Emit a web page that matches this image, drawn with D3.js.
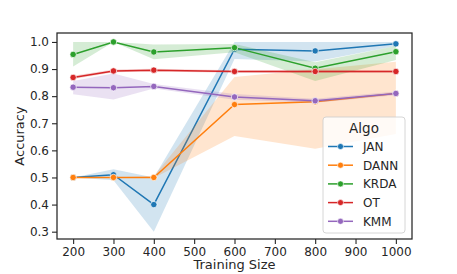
<!DOCTYPE html>
<html>
<head>
<meta charset="utf-8">
<script src="https://cdn.jsdelivr.net/npm/d3@7"></script>
<style>
  body { margin: 0; background: #fff; }
  svg { display: block; font-family: "DejaVu Sans", sans-serif; }
</style>
</head>
<body>
<div id="chart-area"></div>
<script>
// training sizes on the x axis
const sizes = [200, 300, 400, 600, 800, 1000];

// one mean + confidence band per algorithm
const algos = ['JAN', 'DANN', 'KRDA', 'OT', 'KMM'];
const colors = ['#1f77b4', '#ff7f0e', '#2ca02c', '#d62728', '#9467bd'];

const janMean = [0.50, 0.51, 0.40, 0.973, 0.967, 0.993];
const janLo   = [0.50, 0.49, 0.30, 0.937, 0.928, 0.985];
const janHi   = [0.50, 0.53, 0.50, 1.0, 1.0, 1.0];

const dannMean = [0.50, 0.50, 0.50, 0.769, 0.779, 0.81];
const dannLo   = [0.50, 0.50, 0.498, 0.653, 0.606, 0.66];
const dannHi   = [0.50, 0.50, 0.505, 0.871, 0.899, 0.927];

const krdaMean = [0.954, 1.0, 0.963, 0.979, 0.903, 0.964];
const krdaLo   = [0.909, 1.0, 0.936, 0.962, 0.856, 0.933];
const krdaHi   = [1.0, 1.0, 0.991, 0.992, 0.925, 0.985];

const otMean = [0.869, 0.893, 0.896, 0.891, 0.891, 0.891];
const otLo   = [0.863, 0.888, 0.891, 0.886, 0.885, 0.886];
const otHi   = [0.875, 0.898, 0.901, 0.896, 0.897, 0.896];

const kmmMean = [0.833, 0.831, 0.836, 0.797, 0.783, 0.81];
const kmmLo   = [0.807, 0.788, 0.828, 0.787, 0.776, 0.803];
const kmmHi   = [0.856, 0.884, 0.845, 0.808, 0.79, 0.817];

const xTicks = [200, 300, 400, 500, 600, 700, 800, 900, 1000];
const yTicks = [0.3, 0.4, 0.5, 0.6, 0.7, 0.8, 0.9, 1.0];

const series = [
    { mean: janMean, lo: janLo, hi: janHi },
    { mean: dannMean, lo: dannLo, hi: dannHi },
    { mean: krdaMean, lo: krdaLo, hi: krdaHi },
    { mean: otMean, lo: otLo, hi: otHi },
    { mean: kmmMean, lo: kmmLo, hi: kmmHi }
];

const W = 457, H = 274;
const margin = { left: 57, top: 33, right: 45, bottom: 35 };
const width = W - margin.left - margin.right;
const height = H - margin.top - margin.bottom;
const ink = '#262626';

const svg = d3.select('#chart-area').append('svg')
    .attr('width', W)
    .attr('height', H);

const g = svg.append('g')
    .attr('transform', `translate(${margin.left}, ${margin.top})`);

const x = d3.scaleLinear().domain([160, 1040]).range([0, width]);
const y = d3.scaleLinear().domain([0.273, 1.033]).range([height, 0]);

const area = d3.area()
    .x((d, i) => x(sizes[i]))
    .y0(d => y(d[0]))
    .y1(d => y(d[1]));

const line = d3.line()
    .x((d, i) => x(sizes[i]))
    .y(d => y(d));

// bands, lines and markers in seaborn order
series.forEach((s, k) => {
    const band = s.lo.map((v, i) => [v, s.hi[i]]);
    g.append('path')
        .attr('d', area(band))
        .attr('fill', colors[k])
        .attr('fill-opacity', 0.2);
    g.append('path')
        .attr('d', line(s.mean))
        .attr('fill', 'none')
        .attr('stroke', colors[k])
        .attr('stroke-width', 1.5);
    g.selectAll(null)
        .data(s.mean)
        .enter().append('circle')
        .attr('cx', (d, i) => x(sizes[i]))
        .attr('cy', d => y(d))
        .attr('r', 3.2)
        .attr('fill', colors[k])
        .attr('stroke', '#fff')
        .attr('stroke-width', 0.7);
});

// axes
const xAxis = g.append('g')
    .attr('transform', `translate(0, ${height})`)
    .call(d3.axisBottom(x).tickValues(xTicks).tickSize(5).tickPadding(3).tickFormat(d3.format('d')));
const yAxis = g.append('g')
    .call(d3.axisLeft(y).tickValues(yTicks).tickSize(5).tickPadding(3).tickFormat(d3.format('.1f')));

[xAxis, yAxis].forEach(a => {
    a.select('.domain').remove();
    a.selectAll('line').attr('stroke', ink).attr('stroke-width', 1.1);
    a.selectAll('text')
        .attr('fill', ink)
        .attr('font-size', '12px')
        .attr('font-family', '"DejaVu Sans", sans-serif');
});

// frame
g.append('rect')
    .attr('width', width)
    .attr('height', height)
    .attr('fill', 'none')
    .attr('stroke', ink)
    .attr('stroke-width', 1.25);

// axis labels
svg.append('text')
    .attr('x', margin.left + x(600))
    .attr('y', 269)
    .attr('text-anchor', 'middle')
    .attr('font-size', '13px')
    .attr('fill', ink)
    .text('Training Size');

svg.append('text')
    .attr('transform', `translate(24, ${margin.top + height / 2}) rotate(-90)`)
    .attr('text-anchor', 'middle')
    .attr('font-size', '13px')
    .attr('fill', ink)
    .text('Accuracy');

// legend
const leg = svg.append('g').attr('transform', 'translate(323, 117)');
leg.append('rect')
    .attr('width', 82)
    .attr('height', 116)
    .attr('rx', 3)
    .attr('fill', '#fff')
    .attr('fill-opacity', 0.8)
    .attr('stroke', '#cccccc')
    .attr('stroke-width', 0.8);
leg.append('text')
    .attr('x', 41)
    .attr('y', 16)
    .attr('text-anchor', 'middle')
    .attr('font-size', '13.5px')
    .attr('fill', ink)
    .text('Algo');

algos.forEach((name, k) => {
    const row = leg.append('g').attr('transform', `translate(0, ${29.5 + k * 18.7})`);
    row.append('line')
        .attr('x1', 5).attr('x2', 30)
        .attr('stroke', colors[k])
        .attr('stroke-width', 1.5);
    row.append('circle')
        .attr('cx', 17.5)
        .attr('r', 3)
        .attr('fill', colors[k])
        .attr('stroke', '#fff')
        .attr('stroke-width', 0.6);
    row.append('text')
        .attr('x', 40)
        .attr('dy', '0.36em')
        .attr('font-size', '12px')
        .attr('fill', ink)
        .text(name);
});
</script>
</body>
</html>
